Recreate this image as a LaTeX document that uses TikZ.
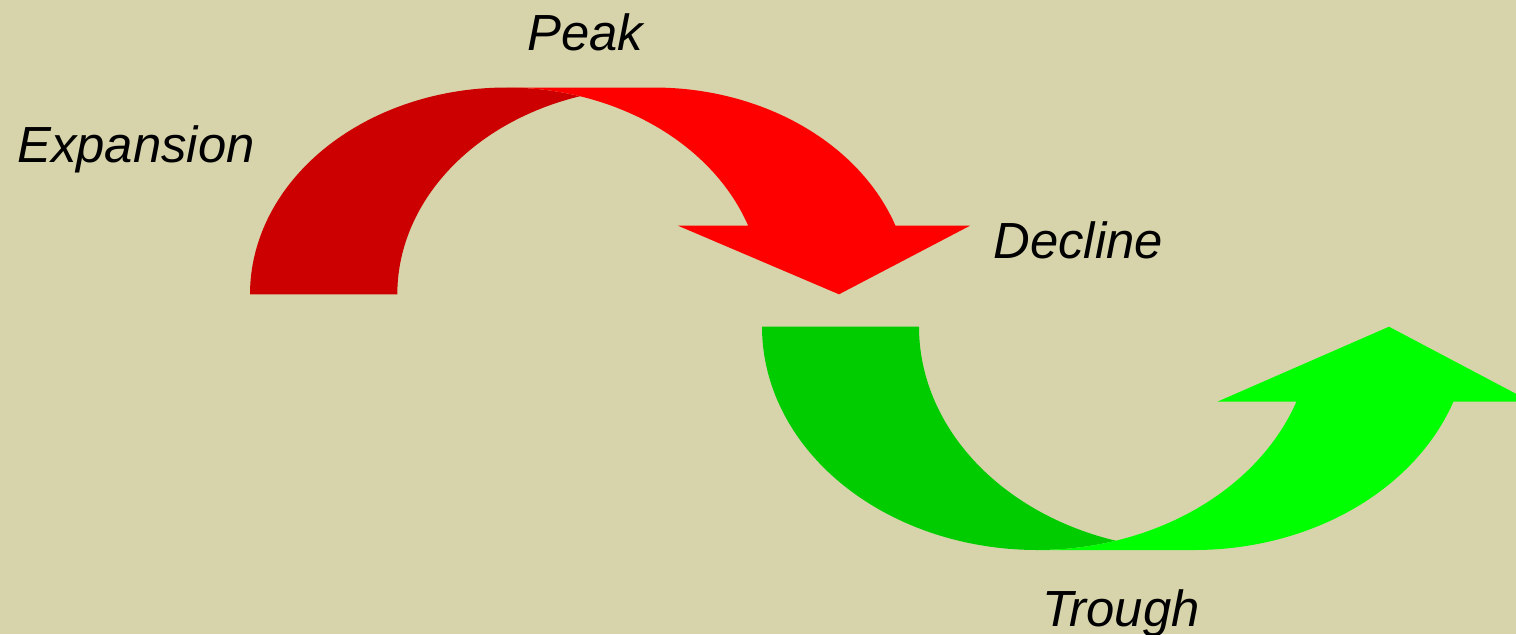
\documentclass[tikz,border=0pt]{standalone}
\usepackage{fontspec}
\setmainfont{Liberation Sans}
\definecolor{cBg}{RGB}{215,212,171}
\definecolor{cRedD}{RGB}{204,0,0}
\definecolor{cRedL}{RGB}{255,0,0}
\definecolor{cGrnD}{RGB}{0,204,0}
\definecolor{cGrnL}{RGB}{0,255,0}
\tikzset{
  phase/.style={font=\fontsize{25.4}{30}\selectfont\itshape, inner sep=0pt, anchor=base west, text=black},
}
\begin{document}
\begin{tikzpicture}[x=0.5pt,y=-0.5pt]
\useasboundingbox (0,0) rectangle (1516,634);
\fill[cBg] (0,0) rectangle (1516,634);
\clip (0,0) rectangle (1516,634);
% ---- red arrow (Expansion -> Peak -> Decline)
\fill[cRedD] plot[domain=180:73.3, samples=90, variable=\t] ({506.35+256.35*cos(\t)},{294.3-206.8*sin(\t)})
  -- plot[domain=106.7:180, samples=90, variable=\t] ({653.65+256.35*cos(\t)},{294.3-206.8*sin(\t)}) -- cycle;
\fill[cRedL] (506.35,87.5) -- (653.65,87.5)
  -- plot[domain=90:19.37, samples=90, variable=\t] ({653.65+256.35*cos(\t)},{294.3-206.8*sin(\t)})
  -- (970,225.7) -- (839,294.3) -- (678,225.7)
  -- plot[domain=19.37:90, samples=90, variable=\t] ({506.35+256.35*cos(\t)},{294.3-206.8*sin(\t)}) -- cycle;
% ---- green arrow (Trough -> recovery)
\fill[cGrnD] plot[domain=180:73.43, samples=90, variable=\t] ({1037.2+275.2*cos(\t)},{326.7+223.3*sin(\t)})
  -- plot[domain=106.57:180, samples=90, variable=\t] ({1194.2+275.2*cos(\t)},{326.7+223.3*sin(\t)}) -- cycle;
\fill[cGrnL] (1037.2,550) -- (1194.2,550)
  -- plot[domain=90:19.63, samples=90, variable=\t] ({1194.2+275.2*cos(\t)},{326.7+223.3*sin(\t)})
  -- (1531,401.7) -- (1389,326.7) -- (1217.3,401.7)
  -- plot[domain=19.63:90, samples=90, variable=\t] ({1037.2+275.2*cos(\t)},{326.7+223.3*sin(\t)}) -- cycle;
% ---- labels
\node[phase] (peak) at (527,50) {Peak};
\node[phase] (expansion) at (17,162) {Expansion};
\node[phase] (decline) at (993,258) {Decline};
\node[phase] (trough) at (1042,626) {Trough};
\end{tikzpicture}
\end{document}
